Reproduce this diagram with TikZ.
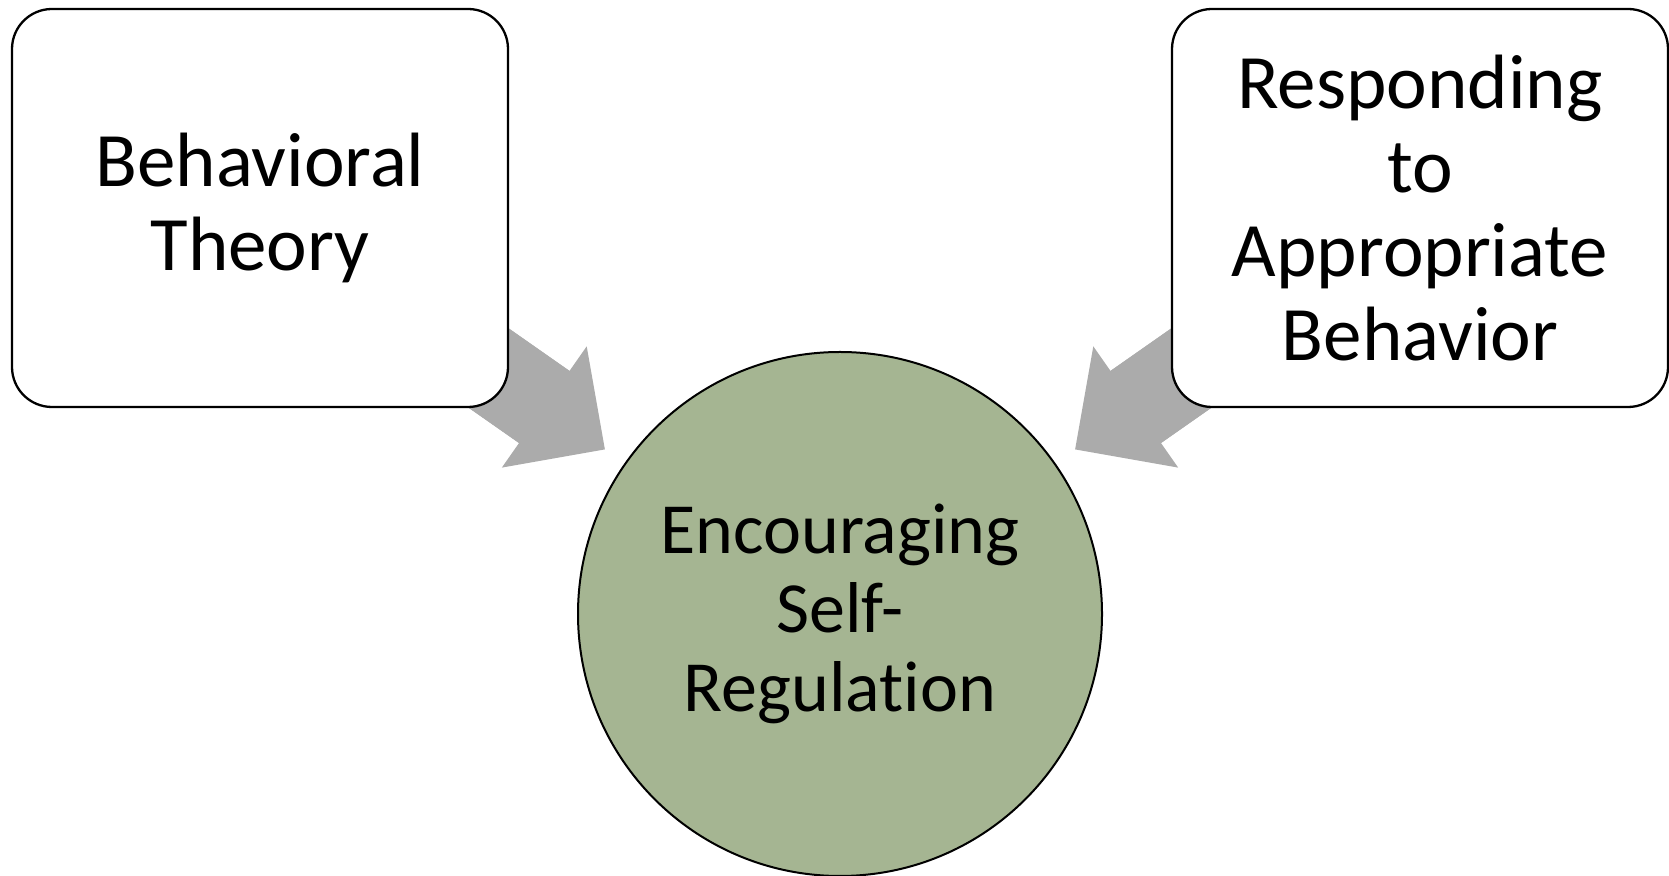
\documentclass[tikz,border=0pt]{standalone}
\usepackage{fontspec}
\setmainfont{Carlito}[Ligatures=NoCommon]
\usetikzlibrary{arrows.meta,backgrounds}
\definecolor{ArrowClr}{RGB}{171,171,171}
\definecolor{GoalClr}{RGB}{165,181,146}

\begin{document}
\begin{tikzpicture}[x=1pt,y=1pt,
  box/.style={draw=black,line width=2.3pt,fill=white,rounded corners=40pt,
    minimum width=496pt,minimum height=398pt,align=center,
    font=\fontsize{77}{84}\selectfont},
  goal/.style={circle,draw=black,line width=2pt,fill=GoalClr,
    minimum size=524pt,align=center,inner sep=0pt,
    font=\fontsize{72}{79}\selectfont},
  bigarrow/.style={draw=ArrowClr,line width=88pt,shorten >=24pt,
    -{Triangle[length=74pt,width=148pt,line width=0pt]}},
  bigshaft/.style={draw=ArrowClr,line width=88pt,shorten >=90pt}]
\useasboundingbox (0,0) rectangle (1669,875);

\node[box] (theory) at (260,667) {Behavioral\\Theory};
\node[box] (respond) at (1420,667) {Responding\\to\\Appropriate\\Behavior};
\node[goal] (selfreg) at (840,261) {Encouraging\\Self-\\Regulation};

% block arrows behind the shapes
\begin{scope}[on background layer]
\draw[bigarrow] (theory.center) -- (selfreg);
\draw[bigshaft] (theory.center) -- (selfreg);
\draw[bigarrow] (respond.center) -- (selfreg);
\draw[bigshaft] (respond.center) -- (selfreg);
\end{scope}

\end{tikzpicture}
\end{document}
